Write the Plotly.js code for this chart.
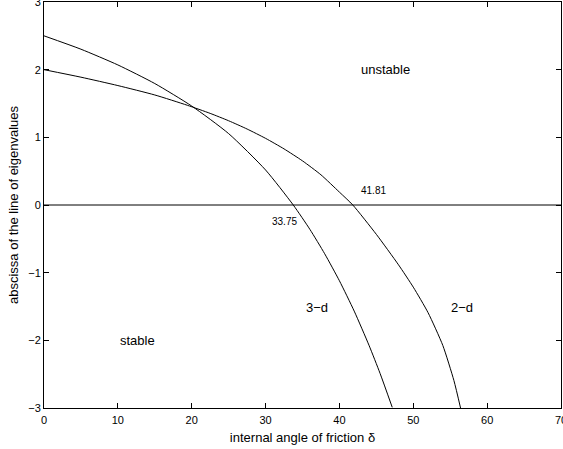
<!DOCTYPE html>
<html>
<head>
<meta charset="utf-8">
<script src="https://cdn.plot.ly/plotly-3.0.1.min.js"></script>
<style>html,body{margin:0;padding:0;background:#fff;}#chart{width:563px;height:449px;}</style>
</head>
<body>
<div id="chart"></div>
<script>
// 3-d curve
const angle3d = [0, 5, 10, 15, 20, 25, 30, 33.75, 36, 38, 40, 42, 44, 45.5, 47.15];
const abscissa3d = [2.5, 2.3025, 2.07, 1.795, 1.4625, 1.055, 0.5175, 0, -0.36, -0.72, -1.12, -1.568, -2.072, -2.488, -2.99];
// 2-d curve
const angle2d = [0, 5, 10, 15, 19.4, 22.5, 25, 27.5, 30, 32.5, 35, 37.5, 40, 41.81, 45, 48, 50, 52, 54, 55.5, 56.4];
const abscissa2d = [2.0, 1.889, 1.765, 1.626, 1.474, 1.354, 1.245, 1.1225, 0.985, 0.829, 0.652, 0.446, 0.19, 0, -0.434, -0.884, -1.214, -1.591, -2.076, -2.594, -3.0];
// zero line
const zeroX = [0, 70];
const zeroY = [0, 0];
// annotations
const labelText = ["unstable", "stable", "3\u2212d", "2\u2212d", "41.81", "33.75"];
const labelX = [46.2, 12.7, 37.0, 56.6, 44.6, 32.5];
const labelY = [2.0, -2.0, -1.52, -1.52, 0.22, -0.25];
const labelSize = [13, 13, 13, 13, 10, 10];
const xTicks = [0, 10, 20, 30, 40, 50, 60, 70];
const yTicks = [-3, -2, -1, 0, 1, 2, 3];

const lineStyle = {color: '#000', width: 1, shape: 'spline', smoothing: 0.6};
const traces = [
  {x: angle3d, y: abscissa3d, mode: 'lines', line: lineStyle, hoverinfo: 'skip'},
  {x: angle2d, y: abscissa2d, mode: 'lines', line: lineStyle, hoverinfo: 'skip'},
  {x: zeroX, y: zeroY, mode: 'lines', line: {color: '#000', width: 1}, hoverinfo: 'skip'}
];

const annotations = labelText.map((t, i) => ({
  x: labelX[i], y: labelY[i], text: t, showarrow: false,
  xref: 'x', yref: 'y',
  font: {family: 'Liberation Sans, Arial, sans-serif', size: labelSize[i], color: '#000'}
}));

const axisCommon = {
  showgrid: false, zeroline: false, showline: true, linecolor: '#000', linewidth: 1,
  mirror: 'ticks', ticks: 'inside', ticklen: 5, tickcolor: '#000', tickwidth: 1,
  ticklabeloverflow: 'allow',
  tickfont: {family: 'Liberation Sans, Arial, sans-serif', size: 11, color: '#000'}
};

const layout = {
  width: 563, height: 449,
  margin: {l: 44, r: 2, t: 2, b: 41},
  paper_bgcolor: '#fff', plot_bgcolor: '#fff',
  showlegend: false,
  xaxis: Object.assign({}, axisCommon, {
    range: [0, 70], tickvals: xTicks, ticktext: xTicks.map(String),
    ticklabelstandoff: 2,
    title: {text: 'internal angle of friction \u03b4', standoff: 7,
      font: {family: 'Liberation Sans, Arial, sans-serif', size: 13, color: '#000'}}
  }),
  yaxis: Object.assign({}, axisCommon, {
    range: [-3, 3], tickvals: yTicks, ticktext: yTicks.map(v => v < 0 ? '\u2212' + Math.abs(v) : String(v)),
    title: {text: 'abscissa of the line of eigenvalues', standoff: 6,
      font: {family: 'Liberation Sans, Arial, sans-serif', size: 13, color: '#000'}}
  }),
  annotations: annotations
};

Plotly.newPlot('chart', traces, layout, {staticPlot: true, displayModeBar: false});
</script>
</body>
</html>
